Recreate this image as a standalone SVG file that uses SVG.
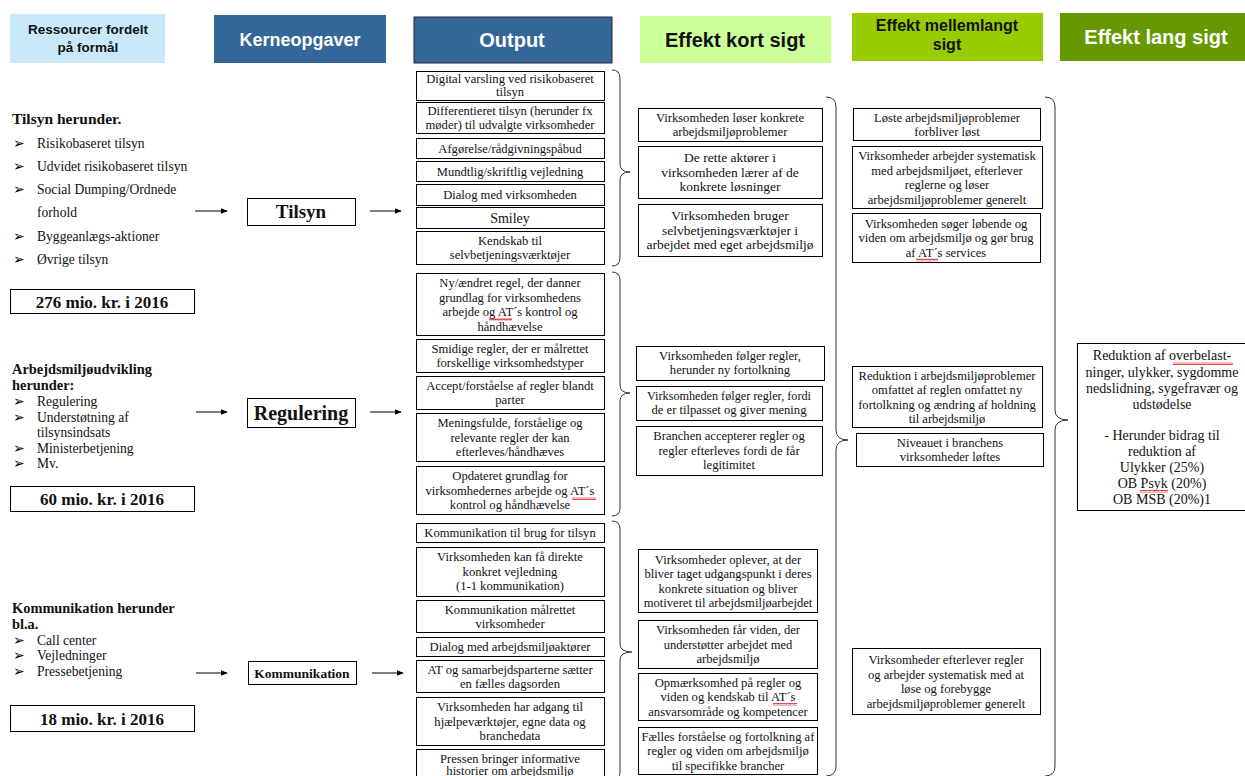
<svg xmlns="http://www.w3.org/2000/svg" width="1245" height="776" viewBox="0 0 1245 776">
<defs>
<marker id="ah" viewBox="0 0 10 10" refX="9" refY="5" markerWidth="7" markerHeight="7" orient="auto"><path d="M0,1 L10,5 L0,9 z" fill="#000"/></marker>
<pattern id="sq" width="4" height="3" patternUnits="userSpaceOnUse"><path d="M0,2.5 L1,0.5 L2,2.5 L3,0.5 L4,2.5" fill="none" stroke="#e02020" stroke-width="0.8"/></pattern>
<style>
.box{fill:#fff;stroke:#000;stroke-width:1}
.t{font-family:"Liberation Serif",serif;font-size:12.6px;text-anchor:middle;fill:#111}
.l{font-family:"Liberation Serif",serif;font-size:13.6px;fill:#111}
.lb{font-family:"Liberation Serif",serif;font-size:14.4px;font-weight:bold;fill:#111}
.bul{font-family:"DejaVu Sans",sans-serif;font-size:14px;fill:#000}
.amt{font-family:"Liberation Serif",serif;font-size:17px;font-weight:bold;text-anchor:middle;fill:#111}
.k{font-family:"Liberation Serif",serif;font-weight:bold;text-anchor:middle;fill:#111}
.h{font-family:"Liberation Sans",sans-serif;font-weight:bold;text-anchor:middle}
.br{fill:none;stroke:#333;stroke-width:1}
.ar{stroke:#000;stroke-width:1;marker-end:url(#ah)}
.sq{fill:url(#sq)}
</style>
</defs>
<rect width="1245" height="776" fill="#fff"/>

<g id="headers">
<rect x="10" y="14" width="155" height="49" fill="#c9e9fb"/>
<text class="h" x="88" y="34" style="font-size:13.5px" fill="#111">Ressourcer  fordelt</text>
<text class="h" x="88" y="52" style="font-size:13.5px" fill="#111">på formål</text>
<rect x="214" y="15" width="172" height="48" fill="#336699"/>
<text class="h" x="300" y="45.5" style="font-size:18px" fill="#fff">Kerneopgaver</text>
<rect x="414" y="17" width="198" height="46" fill="#336699" stroke="#222" stroke-width="1"/>
<text class="h" x="512" y="47" style="font-size:20px" fill="#fff">Output</text>
<rect x="640" y="16" width="191" height="47" fill="#ccff99"/>
<text class="h" x="735" y="47" style="font-size:20px" fill="#111">Effekt kort sigt</text>
<rect x="852" y="13" width="191" height="48" fill="#99cc00"/>
<text class="h" x="947" y="31" style="font-size:16px" fill="#111">Effekt  mellemlangt</text>
<text class="h" x="947" y="50" style="font-size:16px" fill="#111">sigt</text>
<rect x="1060" y="13" width="185" height="48" fill="#669900"/>
<text class="h" x="1156" y="44" style="font-size:20px" fill="#fff">Effekt lang sigt</text>
</g>

<g id="res-tilsyn">
<text class="lb" x="12" y="124" style="font-size:15.5px">Tilsyn herunder.</text>
<text class="bul" x="13" y="148">➢</text><text class="l" x="37" y="148">Risikobaseret tilsyn</text>
<text class="bul" x="13" y="171">➢</text><text class="l" x="37" y="171">Udvidet risikobaseret tilsyn</text>
<text class="bul" x="13" y="194">➢</text><text class="l" x="37" y="194">Social Dumping/Ordnede</text>
<text class="l" x="37" y="217">forhold</text>
<text class="bul" x="13" y="241">➢</text><text class="l" x="37" y="241">Byggeanlægs-aktioner</text>
<text class="bul" x="13" y="264">➢</text><text class="l" x="37" y="264">Øvrige tilsyn</text>
<rect class="box" x="10.5" y="289.5" width="184" height="24"/>
<text class="amt" x="102" y="308">276 mio. kr. i 2016</text>
</g>

<g id="res-regulering">
<text class="lb" x="12" y="374">Arbejdsmiljøudvikling</text>
<text class="lb" x="12" y="390">herunder:</text>
<text class="bul" x="13" y="406">➢</text><text class="l" x="37" y="406">Regulering</text>
<text class="bul" x="13" y="422">➢</text><text class="l" x="37" y="422">Understøtning af</text>
<text class="l" x="37" y="437">tilsynsindsats</text>
<text class="bul" x="13" y="453">➢</text><text class="l" x="37" y="453">Ministerbetjening</text>
<text class="bul" x="13" y="468">➢</text><text class="l" x="37" y="468">Mv.</text>
<rect class="box" x="10.5" y="486.5" width="184" height="25"/>
<text class="amt" x="102" y="505">60 mio. kr. i 2016</text>
</g>

<g id="res-kommunikation">
<text class="lb" x="12" y="613">Kommunikation herunder</text>
<text class="lb" x="12" y="629">bl.a.</text>
<text class="bul" x="13" y="645">➢</text><text class="l" x="37" y="645">Call center</text>
<text class="bul" x="13" y="660">➢</text><text class="l" x="37" y="660">Vejledninger</text>
<text class="bul" x="13" y="676">➢</text><text class="l" x="37" y="676">Pressebetjening</text>
<rect class="box" x="10.5" y="705.5" width="184" height="26"/>
<text class="amt" x="102" y="725">18 mio. kr. i 2016</text>
</g>

<g id="k-tilsyn"><rect class="box" x="247.5" y="198.5" width="108" height="27"/><text class="k" x="301" y="218" style="font-size:19px">Tilsyn</text></g>
<g id="k-regulering"><rect class="box" x="247.5" y="398.5" width="108" height="29"/><text class="k" x="301" y="419.5" style="font-size:20px">Regulering</text></g>
<g id="k-kommunikation"><rect class="box" x="248.5" y="661.5" width="108" height="23"/><text class="k" x="302" y="677.5" style="font-size:13.5px">Kommunikation</text></g>

<g id="connectors">
<line class="ar" x1="195" y1="211" x2="227" y2="211"/>
<line class="ar" x1="370" y1="211" x2="401" y2="211"/>
<line class="ar" x1="196" y1="412" x2="227" y2="412"/>
<line class="ar" x1="370" y1="412" x2="401" y2="412"/>
<line class="ar" x1="196" y1="673" x2="227" y2="673"/>
<line class="ar" x1="372" y1="673" x2="403" y2="673"/>
<path class="br" d="M612,70 Q620,70 620,78 L620,164 Q620,172 630,172 Q620,172 620,180 L620,258 Q620,266 612,266"/>
<path class="br" d="M612,272 Q620,272 620,280 L620,385 Q620,393 630,393 Q620,393 620,401 L620,508 Q620,516 612,516"/>
<path class="br" d="M612,521 Q620,521 620,529 L620,644 Q620,652 632,652 Q620,652 620,660 L620,772 Q620,780 612,780"/>
<path class="br" d="M826,97 Q836,97 836,107 L836,430 Q836,440 848,440 Q836,440 836,450 L836,766 Q836,776 826,776"/>
<path class="br" d="M1045,97 Q1055,97 1055,107 L1055,410 Q1055,420 1068,420 Q1055,420 1055,430 L1055,766 Q1055,776 1045,776"/>
</g>

<g id="out-tilsyn">
<rect class="box" x="416.5" y="71.5" width="188" height="29"/><text class="t" x="510" y="83">Digital varsling ved risikobaseret</text><text class="t" x="510" y="96">tilsyn</text>
<rect class="box" x="416.5" y="102.5" width="188" height="31"/><text class="t" x="510" y="115">Differentieret  tilsyn (herunder fx</text><text class="t" x="510" y="128.5">møder) til udvalgte virksomheder</text>
<rect class="box" x="416.5" y="138.5" width="188" height="20"/><text class="t" x="510" y="152.5">Afgørelse/rådgivningspåbud</text>
<rect class="box" x="416.5" y="161.5" width="188" height="20"/><text class="t" x="510" y="175.5">Mundtlig/skriftlig vejledning</text>
<rect class="box" x="416.5" y="184.5" width="188" height="21"/><text class="t" x="510" y="199">Dialog med virksomheden</text>
<rect class="box" x="416.5" y="207.5" width="188" height="21"/><text class="t" x="510" y="222.5" style="font-size:14px">Smiley</text>
<rect class="box" x="416.5" y="231.5" width="188" height="33"/><text class="t" x="510" y="244.5">Kendskab til</text><text class="t" x="510" y="258.5">selvbetjeningsværktøjer</text>
</g>

<g id="out-regulering">
<rect class="box" x="416.5" y="273.5" width="188" height="62"/><text class="t" x="510" y="287">Ny/ændret regel, der danner</text><text class="t" x="510" y="301.5">grundlag for virksomhedens</text><text class="t" x="510" y="316">arbejde og AT´s kontrol og</text><text class="t" x="510" y="330.5">håndhævelse</text>
<rect class="box" x="416.5" y="339.5" width="188" height="33"/><text class="t" x="510" y="353">Smidige regler, der er målrettet</text><text class="t" x="510" y="367">forskellige virksomhedstyper</text>
<rect class="box" x="416.5" y="376.5" width="188" height="33"/><text class="t" x="510" y="390">Accept/forståelse  af regler blandt</text><text class="t" x="510" y="404">parter</text>
<rect class="box" x="416.5" y="413.5" width="188" height="48"/><text class="t" x="510" y="427">Meningsfulde, forståelige  og</text><text class="t" x="510" y="441.5">relevante  regler der kan</text><text class="t" x="510" y="456">efterleves/håndhæves</text>
<rect class="box" x="416.5" y="466.5" width="188" height="48"/><text class="t" x="510" y="480">Opdateret grundlag for</text><text class="t" x="510" y="494.5">virksomhedernes arbejde og AT´s</text><text class="t" x="510" y="509">kontrol og håndhævelse</text>
</g>

<g id="out-kommunikation">
<rect class="box" x="416.5" y="523.5" width="188" height="19"/><text class="t" x="510" y="537">Kommunikation  til brug for tilsyn</text>
<rect class="box" x="416.5" y="547.5" width="188" height="49"/><text class="t" x="510" y="561">Virksomheden kan få  direkte</text><text class="t" x="510" y="576">konkret vejledning</text><text class="t" x="510" y="590">(1-1 kommunikation)</text>
<rect class="box" x="416.5" y="600.5" width="188" height="32"/><text class="t" x="510" y="614">Kommunikation målrettet</text><text class="t" x="510" y="628">virksomheder</text>
<rect class="box" x="416.5" y="637.5" width="188" height="19"/><text class="t" x="510" y="651">Dialog med arbejdsmiljøaktører</text>
<rect class="box" x="416.5" y="660.5" width="188" height="32"/><text class="t" x="510" y="674">AT og samarbejdsparterne  sætter</text><text class="t" x="510" y="688">en fælles dagsorden</text>
<rect class="box" x="416.5" y="697.5" width="188" height="48"/><text class="t" x="510" y="711">Virksomheden har adgang til</text><text class="t" x="510" y="725.5">hjælpeværktøjer, egne data og</text><text class="t" x="510" y="740">branchedata</text>
<rect class="box" x="416.5" y="749.5" width="188" height="32"/><text class="t" x="510" y="763">Pressen  bringer informative</text><text class="t" x="510" y="775">historier om arbejdsmiljø</text>
</g>

<g id="kort">
<rect class="box" x="638.5" y="108.5" width="184" height="33"/><text class="t" x="730" y="122">Virksomheden løser  konkrete</text><text class="t" x="730" y="136">arbejdsmiljøproblemer</text>
<rect class="box" x="638.5" y="146.5" width="184" height="52"/><text class="t" x="730" y="162" style="font-size:13.5px">De rette  aktører i</text><text class="t" x="730" y="176.5" style="font-size:13.5px">virksomheden lærer af de</text><text class="t" x="730" y="191" style="font-size:13.5px">konkrete løsninger</text>
<rect class="box" x="638.5" y="204.5" width="184" height="52"/><text class="t" x="730" y="220" style="font-size:13.5px">Virksomheden bruger</text><text class="t" x="730" y="234.5" style="font-size:13.5px">selvbetjeningsværktøjer i</text><text class="t" x="730" y="249" style="font-size:13.5px">arbejdet med eget arbejdsmiljø</text>
<rect class="box" x="636.5" y="346.5" width="188" height="34"/><text class="t" x="730" y="360">Virksomheden følger regler,</text><text class="t" x="730" y="374">herunder ny fortolkning</text>
<rect class="box" x="636.5" y="386.5" width="186" height="34"/><text class="t" x="729" y="400" style="font-size:12.2px">Virksomheden følger regler,  fordi</text><text class="t" x="729" y="414">de er  tilpasset og giver mening</text>
<rect class="box" x="636.5" y="426.5" width="186" height="49"/><text class="t" x="729" y="440">Branchen  accepterer  regler og</text><text class="t" x="729" y="455">regler efterleves  fordi de får</text><text class="t" x="729" y="469">legitimitet</text>
<rect class="box" x="638.5" y="549.5" width="179" height="63"/><text class="t" x="728" y="563.5">Virksomheder oplever, at der</text><text class="t" x="728" y="578">bliver taget udgangspunkt i deres</text><text class="t" x="728" y="592.5">konkrete  situation og bliver</text><text class="t" x="728" y="607">motiveret til arbejdsmiljøarbejdet</text>
<rect class="box" x="638.5" y="620.5" width="179" height="48"/><text class="t" x="728" y="634">Virksomheden får viden, der</text><text class="t" x="728" y="648.5">understøtter arbejdet med</text><text class="t" x="728" y="663">arbejdsmiljø</text>
<rect class="box" x="638.5" y="673.5" width="179" height="47"/><text class="t" x="728" y="686.5">Opmærksomhed på regler  og</text><text class="t" x="728" y="701">viden og kendskab til AT´s</text><text class="t" x="728" y="715.5">ansvarsområde og kompetencer</text>
<rect class="box" x="638.5" y="727.5" width="179" height="47"/><text class="t" x="728" y="740.5">Fælles forståelse og fortolkning af</text><text class="t" x="728" y="755">regler  og viden om arbejdsmiljø</text><text class="t" x="728" y="769.5">til specifikke  brancher</text>
</g>

<g id="mellem">
<rect class="box" x="853.5" y="108.5" width="187" height="32"/><text class="t" x="947" y="121.5">Løste arbejdsmiljøproblemer</text><text class="t" x="947" y="135.5">forbliver  løst</text>
<rect class="box" x="852.5" y="146.5" width="190" height="62"/><text class="t" x="947" y="160">Virksomheder arbejder  systematisk</text><text class="t" x="947" y="174.5">med  arbejdsmiljøet, efterlever</text><text class="t" x="947" y="189">reglerne  og løser</text><text class="t" x="947" y="203.5">arbejdsmiljøproblemer generelt</text>
<rect class="box" x="852.5" y="213.5" width="188" height="49"/><text class="t" x="946" y="227.5">Virksomheden søger løbende  og</text><text class="t" x="946" y="242">viden om arbejdsmiljø og gør brug</text><text class="t" x="946" y="256.5">af AT´s services</text>
<rect class="box" x="852.5" y="366.5" width="190" height="61"/><text class="t" x="947" y="379.5">Reduktion i arbejdsmiljøproblemer</text><text class="t" x="947" y="394">omfattet af reglen omfattet ny</text><text class="t" x="947" y="408.5">fortolkning og ændring af holdning</text><text class="t" x="947" y="423">til arbejdsmiljø</text>
<rect class="box" x="856.5" y="433.5" width="187" height="33"/><text class="t" x="950" y="447">Niveauet  i branchens</text><text class="t" x="950" y="461">virksomheder løftes</text>
<rect class="box" x="852.5" y="648.5" width="188" height="66"/><text class="t" x="946" y="664">Virksomheder efterlever regler</text><text class="t" x="946" y="678.5">og arbejder systematisk med at</text><text class="t" x="946" y="693">løse og forebygge</text><text class="t" x="946" y="707.5">arbejdsmiljøproblemer generelt</text>
</g>

<g id="lang">
<rect class="box" x="1077.5" y="343.5" width="170" height="167"/>
<text class="t" x="1162" y="360" style="font-size:14px">Reduktion af overbelast-</text>
<text class="t" x="1162" y="377" style="font-size:14px">ninger, ulykker, sygdomme</text>
<text class="t" x="1162" y="393" style="font-size:14px">nedslidning,  sygefravær og</text>
<text class="t" x="1162" y="409" style="font-size:14px">udstødelse</text>
<text class="t" x="1162" y="440" style="font-size:14px">- Herunder bidrag til</text>
<text class="t" x="1162" y="456" style="font-size:14px">reduktion af</text>
<text class="t" x="1162" y="472" style="font-size:14px">Ulykker (25%)</text>
<text class="t" x="1162" y="488" style="font-size:14px">OB Psyk (20%)</text>
<text class="t" x="1162" y="504" style="font-size:14px">OB MSB (20%)1</text>
</g>

<g id="spellcheck">
<rect class="sq" x="489" y="318" width="23" height="3"/>
<rect class="sq" x="572" y="497" width="24" height="3"/>
<rect class="sq" x="773" y="703" width="24" height="3"/>
<rect class="sq" x="916" y="258.5" width="22" height="3"/>
<rect class="sq" x="1173" y="362" width="60" height="3"/>
<rect class="sq" x="1140" y="490" width="28" height="3"/>
</g>
</svg>
